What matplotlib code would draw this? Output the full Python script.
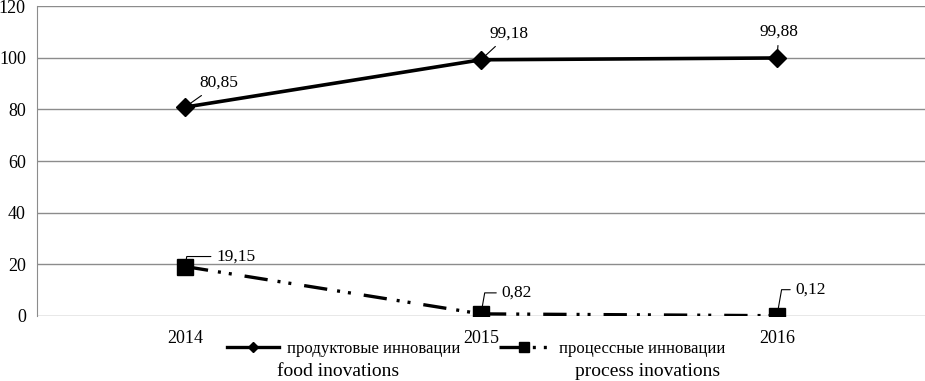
import matplotlib.pyplot as plt
from matplotlib.lines import Line2D

plt.rcParams['font.family'] = ['Liberation Serif', 'DejaVu Serif']

years = ['2014', '2015', '2016']
food = [80.85, 99.18, 99.88]
process = [19.15, 0.82, 0.12]
food_labels = ['80,85', '99,18', '99,88']
process_labels = ['19,15', '0,82', '0,12']
ru_names = ['продуктовые инновации', 'процессные инновации']
en_names = ['food inovations', 'process inovations']

fig = plt.figure(figsize=(9.25, 3.81), dpi=100)
ax = fig.add_axes([37/925, 1-316/381, 1-37/925, 310/381])

x = list(range(len(years)))
dd = (7.0, 3.0, 0.9, 2.4, 0.9, 3.9)

ax.plot(x, food, color='black', lw=2.6, marker='D', ms=9, zorder=3)
ax.plot(x, process, color='black', lw=2.4, dashes=dd, marker='s', ms=12, zorder=3)

# data labels with leader lines (offsets in pixels)
food_off = [(34, 24), (28, 26), (2, 26)]
proc_off = [(51, 10), (36, 21), (34, 26)]
for i in x:
    ax.annotate(food_labels[i], (i, food[i]), xytext=food_off[i], textcoords='offset pixels',
                ha='center', va='center', fontsize=12.5,
                arrowprops=dict(arrowstyle='-', lw=0.8, color='black', shrinkA=2, shrinkB=5))
    ax.annotate(process_labels[i], (i, process[i]), xytext=proc_off[i], textcoords='offset pixels',
                ha='center', va='center', fontsize=12.5,
                arrowprops=dict(arrowstyle='-', lw=0.8, color='black', shrinkA=2, shrinkB=5,
                                connectionstyle='angle,angleA=0,angleB=80,rad=0'))

ax.set_xlim(-0.5, 2.5)
ax.set_ylim(0, 120)
ax.set_yticks(range(0, 121, 20))
ax.set_xticks(x)
ax.set_xticklabels(years)
ax.tick_params(axis='both', length=0, labelsize=13)
ax.tick_params(axis='x', pad=10)
ax.tick_params(axis='y', pad=8)
ax.yaxis.grid(True, color='#8c8c8c', lw=1)
ax.set_axisbelow(True)
for s in ['top', 'right', 'bottom']:
    ax.spines[s].set_visible(False)
ax.spines['left'].set_color('#8c8c8c')

handles = [Line2D([], [], color='black', lw=2.4, marker='D', ms=5),
           Line2D([], [], color='black', lw=2.4, dashes=dd, marker='s', ms=7)]
fig.legend(handles, ru_names, loc='center', bbox_to_anchor=(476/925, 1-349/381),
           ncol=2, frameon=False, fontsize=12, handlelength=3.1, handletextpad=0.5,
           columnspacing=2.3, borderpad=0)
fig.text(338/925, 1-372/381, en_names[0], ha='center', va='center', fontsize=14)
fig.text(648/925, 1-372/381, en_names[1], ha='center', va='center', fontsize=14)

fig.savefig('out.png', dpi=100)
